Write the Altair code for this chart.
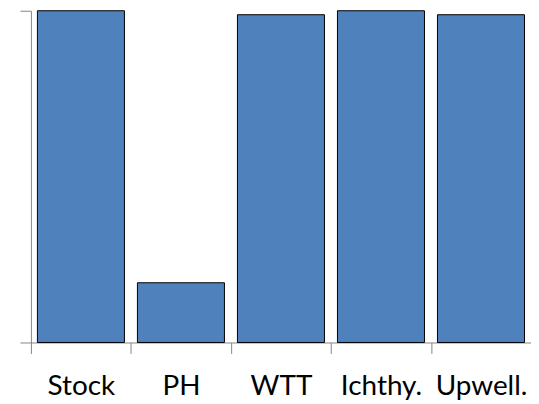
import altair as alt
import pandas as pd

categories = ["Stock", "PH", "WTT", "Ichthy.", "Upwell."]
values = [100, 18, 98.8, 100, 98.8]

df = pd.DataFrame({"cat": categories, "val": values})

chart = alt.Chart(df).mark_bar(
    color="#4F81BD", stroke="black", strokeWidth=1,
    width=alt.RelativeBandSize(0.87)
).encode(
    x=alt.X("cat:N", sort=categories, title=None,
            scale=alt.Scale(paddingInner=0, paddingOuter=0),
            axis=alt.Axis(labelAngle=0, tickBand="extent", tickSize=11,
                          domainColor="#868686", tickColor="#868686",
                          labelFont="Lato", labelFontSize=28, labelColor="black",
                          labelBaseline="alphabetic", labelPadding=41,
                          labelOverlap=False, labelBound=False, grid=False)),
    y=alt.Y("val:Q", title=None,
            scale=alt.Scale(domain=[0, 100], nice=False, clamp=True),
            axis=alt.Axis(values=[0, 100], labels=False, tickSize=11,
                          domainColor="#868686", tickColor="#868686", grid=False)),
).properties(
    width=502, height=333,
    autosize=alt.AutoSizeParams(type="none"),
    padding={"left": 23, "top": 2, "right": 0, "bottom": 60},
).configure_view(stroke=None)

chart.save("out.html", embed_options={"renderer": "svg", "actions": False})
